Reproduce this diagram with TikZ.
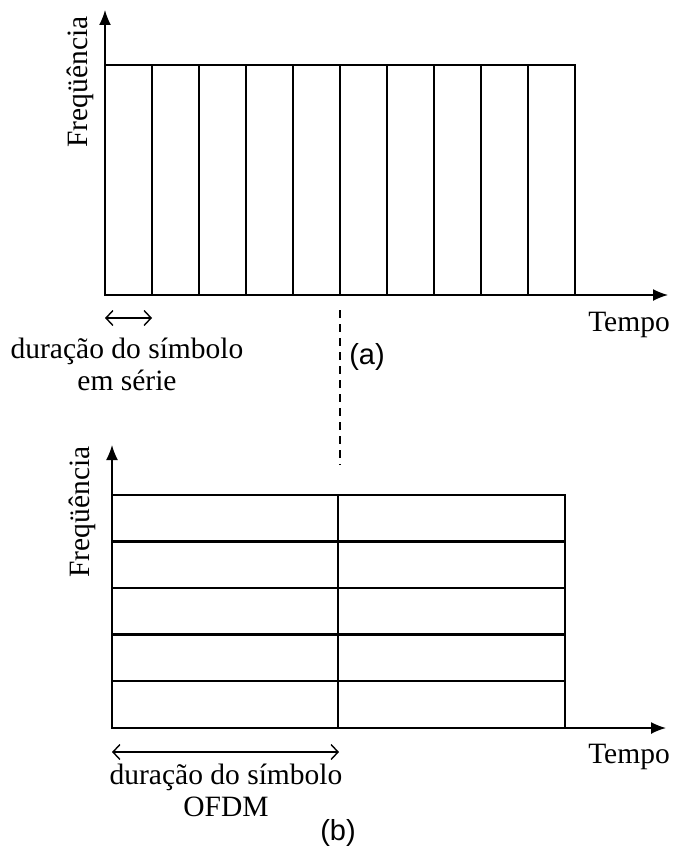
\documentclass[tikz,border=0pt]{standalone}
\usepackage{fontspec}
\setmainfont{Liberation Serif}
\setsansfont{Liberation Sans}
\usetikzlibrary{arrows.meta,positioning,calc}

\begin{document}
\begin{tikzpicture}[x=1pt,y=-1pt,>=Latex,
  axis/.style={-{Latex[length=15pt,width=12pt]},line width=1.5pt},
  cell/.style={line width=2.8pt},
  span/.style={{Straight Barb[length=7pt,width=15pt]}-{Straight Barb[length=7pt,width=15pt]},line width=1.4pt},
  lbl/.style={font=\fontsize{29.5}{32}\selectfont,inner sep=0pt,align=center},
  tag/.style={font=\sffamily\fontsize{29}{30}\selectfont,inner sep=0pt}]
  \useasboundingbox (0,0) rectangle (674,853);
  \coordinate (oa) at (105,295);
  \coordinate (ya) at (105,10);
  \coordinate (xa) at (668,295);
  \draw[axis] (oa) -- (ya);
  \draw[axis] (oa) -- (xa);
  \draw[cell] (105,65) rectangle (575,295);
  \foreach \i in {1,...,9}
    \draw[cell] (105+47*\i,65) -- (105+47*\i,295);
  \node[lbl,rotate=90] (fa) at (80,82) {Freqüência};
  \node[lbl] (ta) at (629,325) {Tempo};
  \coordinate (sa1) at (105,318);
  \coordinate (sa2) at (152,318);
  \draw[span] (sa1) -- (sa2);
  \node[lbl] (da) at (127,364) {duração do símbolo\\em série};
  \node[tag] (la) at (367,357) {(a)};
  \coordinate (ca1) at (340,310);
  \coordinate (ca2) at (340,465);
  \draw[dashed,dash pattern=on 8pt off 6pt,line width=1.2pt] (ca1) -- (ca2);
  \coordinate (ob) at (112,728);
  \coordinate (yb) at (112,445);
  \coordinate (xb) at (666,728);
  \draw[axis] (ob) -- (yb);
  \draw[axis] (ob) -- (xb);
  \draw[cell] (112,495) rectangle (565,728);
  \foreach \y in {541.5,588,634.5,681}
    \draw[cell] (112,\y) -- (565,\y);
  \draw[cell] (338,495) -- (338,728);
  \node[lbl,rotate=90] (fb) at (82,512) {Freqüência};
  \node[lbl] (tb) at (629,757) {Tempo};
  \coordinate (sb1) at (112,752);
  \coordinate (sb2) at (339,752);
  \draw[span] (sb1) -- (sb2);
  \node[lbl] (db) at (226,790) {duração do símbolo\\OFDM};
  \node[tag] (lb) at (338,833) {(b)};
\end{tikzpicture}
\end{document}
